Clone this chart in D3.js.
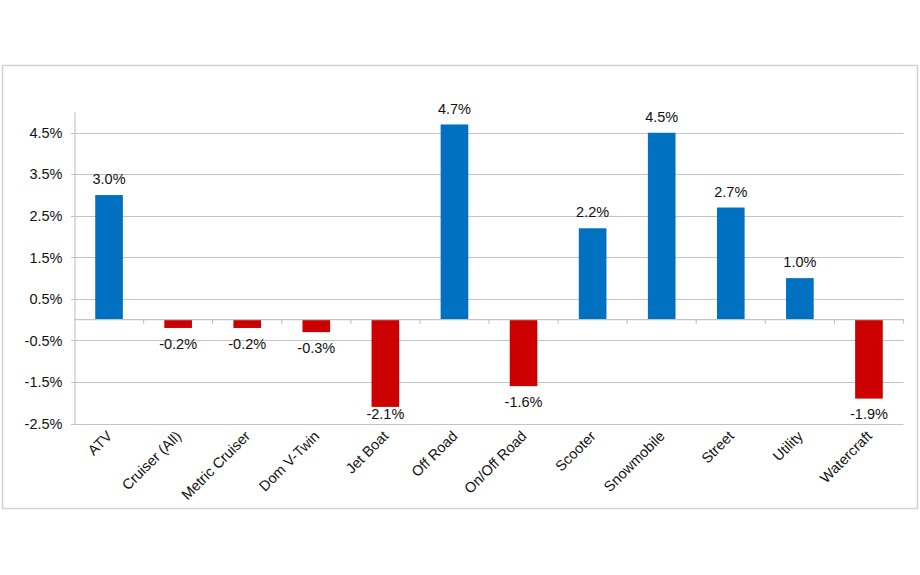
<html>
<head>
  <meta charset="utf-8">
  <script src="https://cdn.jsdelivr.net/npm/d3@7"></script>
  <style>
    body { margin: 0; background: #fff; }
    text { font-family: "Liberation Sans", Arial, sans-serif; fill: #111; }
  </style>
</head>
<body>
 <div id="content"></div>
 <script>
  // segment growth, percent
  const categories = ["ATV", "Cruiser (All)", "Metric Cruiser", "Dom V-Twin", "Jet Boat", "Off Road",
                      "On/Off Road", "Scooter", "Snowmobile", "Street", "Utility", "Watercraft"];
  const growth = [3.0, -0.2, -0.2, -0.3, -2.1, 4.7, -1.6, 2.2, 4.5, 2.7, 1.0, -1.9];
  const tickValues = [-2.5, -1.5, -0.5, 0.5, 1.5, 2.5, 3.5, 4.5];

  const colorUp = "#0070c0"
  const colorDown = "#cc0000"
  const gridColor = "#c4c4c4"
  const width = 920, height = 575
  const fontSize = 14.5

  const pct = d => d3.format(".1f")(d).replace("\u2212", "-") + "%";

  const svg = d3.select("#content").append("svg")
      .attr("width", width)
      .attr("height", height);

  // outer frame
  svg.append("rect")
      .attr("x", 2.5).attr("y", 65.5)
      .attr("width", 915).attr("height", 443)
      .attr("fill", "#fff")
      .attr("stroke", "#d2d2d2")
      .attr("stroke-width", 1.5);

  const x = d3.scaleBand()
      .domain(categories)
      .range([74.5, 903.5])
      .paddingInner(0.6)
      .paddingOuter(0.3);

  const y = d3.scaleLinear()
      .domain([-2.5, 5.0])
      .range([423.5, 112]);

  // gridlines
  svg.append("g")
      .selectAll("line")
      .data(tickValues)
      .join("line")
      .attr("x1", 71).attr("x2", 903.5)
      .attr("y1", d => Math.round(y(d)) + 0.5)
      .attr("y2", d => Math.round(y(d)) + 0.5)
      .attr("stroke", gridColor)
      .attr("stroke-width", 1.2);

  // y axis
  const yAxis = svg.append("g")
      .attr("transform", "translate(74.5,0)")
      .call(d3.axisLeft(y).tickValues(tickValues).tickSize(0).tickPadding(12).tickFormat(pct));
  yAxis.select(".domain").attr("stroke", gridColor).attr("stroke-width", 1.2);
  yAxis.selectAll("text")
      .attr("font-size", fontSize)
      .attr("font-family", "\"Liberation Sans\", Arial, sans-serif")
      .attr("fill", "#111");

  // bars
  svg.append("g")
      .selectAll("rect")
      .data(growth)
      .join("rect")
      .attr("x", (d, i) => x(categories[i]))
      .attr("width", x.bandwidth())
      .attr("y", d => y(Math.max(0, d)))
      .attr("height", d => Math.abs(y(d) - y(0)))
      .attr("fill", d => d >= 0 ? colorUp : colorDown);

  // zero line with category ticks
  const bounds = d3.range(categories.length + 1).map(i => x.range()[0] + i * (x.range()[1] - x.range()[0]) / categories.length);
  svg.append("line")
      .attr("x1", 74.5).attr("x2", 903.5)
      .attr("y1", y(0)).attr("y2", y(0))
      .attr("stroke", gridColor)
      .attr("stroke-width", 1.2);
  svg.append("g")
      .selectAll("line")
      .data(bounds.slice(1))
      .join("line")
      .attr("x1", d => d).attr("x2", d => d)
      .attr("y1", y(0)).attr("y2", y(0) + 4)
      .attr("stroke", gridColor)
      .attr("stroke-width", 1.2);

  // value labels
  svg.append("g")
      .selectAll("text")
      .data(growth)
      .join("text")
      .attr("x", (d, i) => x(categories[i]) + x.bandwidth() / 2)
      .attr("y", d => d >= 0 ? Math.max(y(d) - 11, 114) : Math.min(y(d) + 21, 419))
      .attr("text-anchor", "middle")
      .attr("font-size", fontSize)
      .text(pct);

  // category labels
  svg.append("g")
      .selectAll("text")
      .data(categories)
      .join("text")
      .attr("transform", d => `translate(${x(d) + x.bandwidth() / 2 + 4},${437}) rotate(-45)`)
      .attr("text-anchor", "end")
      .attr("font-size", fontSize)
      .text(d => d);
 </script>
</body>
</html>
